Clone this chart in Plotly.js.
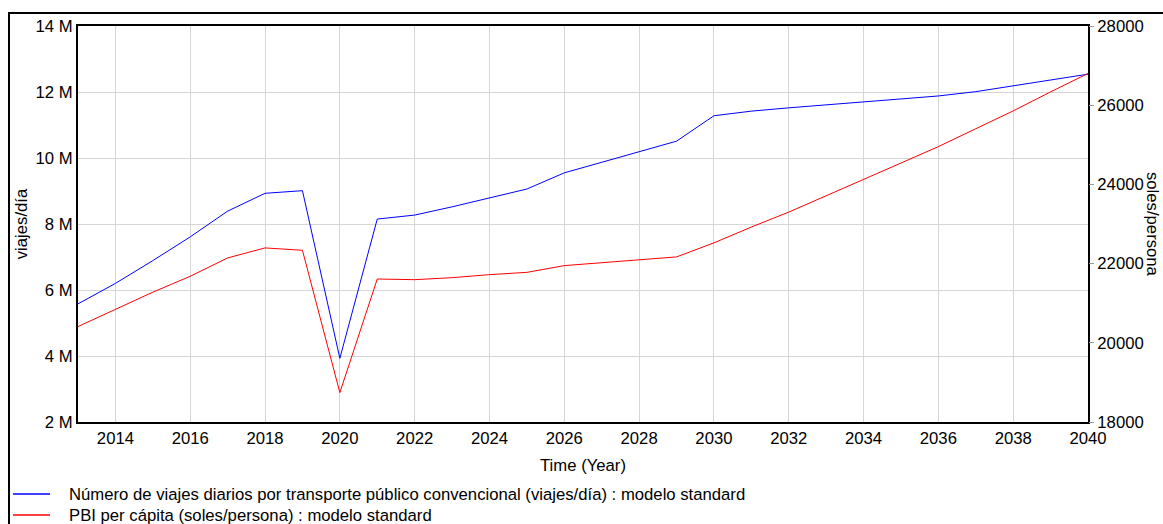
<!DOCTYPE html>
<html>
<head>
<meta charset="utf-8">
<script src="https://cdn.plot.ly/plotly-3.0.1.min.js"></script>
<style>
  html, body { margin: 0; padding: 0; background: #ffffff; }
  #chart { width: 1163px; height: 524px; }
</style>
</head>
<body>
<div id="chart"></div>
<script>
// ---- data ----
const years = [2013, 2014, 2015, 2016, 2017, 2018, 2019, 2020, 2021, 2022, 2023, 2024, 2025, 2026,
               2027, 2028, 2029, 2030, 2031, 2032, 2033, 2034, 2035, 2036, 2037, 2038, 2039, 2040];

// Número de viajes diarios por transporte público convencional (viajes/día)
const viajesDiarios = [5.58e6, 6.20e6, 6.89e6, 7.61e6, 8.39e6, 8.93e6, 9.01e6, 3.93e6, 8.15e6, 8.27e6,
                       8.52e6, 8.78e6, 9.06e6, 9.55e6, 9.87e6, 10.18e6, 10.51e6, 11.28e6, 11.42e6, 11.52e6,
                       11.61e6, 11.70e6, 11.77e6, 11.88e6, 12.01e6, 12.18e6, 12.35e6, 12.54e6];

// PBI per cápita (soles/persona)
const pbiPerCapita = [20410, 20835, 21278, 21680, 22143, 22396, 22336, 18741, 21611, 21594,
                      21645, 21721, 21779, 21949, 22017, 22093, 22169, 22523, 22923, 23300,
                      23708, 24126, 24539, 24954, 25402, 25856, 26336, 26802];

const leftTickVals = [2e6, 4e6, 6e6, 8e6, 10e6, 12e6, 14e6];
const leftTickText = ['2 M', '4 M', '6 M', '8 M', '10 M', '12 M', '14 M'];
const xTickVals = [2014, 2016, 2018, 2020, 2022, 2024, 2026, 2028, 2030, 2032, 2034, 2036, 2038, 2040];

const seriesNames = [
  'Número de viajes diarios por transporte público convencional (viajes/día) : modelo standard',
  'PBI per cápita (soles/persona) : modelo standard'
];
const seriesColors = ['#0000ff', '#ff0000'];

// ---- layout helpers (pixel -> paper) ----
const PL = 78, PR = 1088, PT = 26, PB = 422;
const px = v => (v - PL) / (PR - PL);
const py = v => (PB - v) / (PB - PT);

const FONT = 'Liberation Sans, Arial, sans-serif';
const FS = 16.7;
const tf = { family: FONT, size: FS, color: '#000000' };

const traces = [
  {
    x: years, y: viajesDiarios, name: seriesNames[0], type: 'scatter', mode: 'lines',
    line: { color: seriesColors[0], width: 1 }, yaxis: 'y'
  },
  {
    x: years, y: pbiPerCapita, name: seriesNames[1], type: 'scatter', mode: 'lines',
    line: { color: seriesColors[1], width: 1 }, yaxis: 'y2'
  }
];

// legend drawn manually (key line + label) to match the reference's spacing
const legendRows = [494, 515];
const legendShapes = seriesNames.map((n, i) => ({
  type: 'line', xref: 'paper', yref: 'paper',
  x0: px(13), x1: px(50), y0: py(legendRows[i]), y1: py(legendRows[i]),
  line: { color: seriesColors[i], width: 1.5 }
}));
const legendLabels = seriesNames.map((n, i) => ({
  text: n, xref: 'paper', yref: 'paper', x: px(67), y: py(legendRows[i]),
  xanchor: 'left', yanchor: 'middle', showarrow: false, font: tf
}));

const layout = {
  width: 1163, height: 524,
  margin: { l: PL, r: 1163 - PR, t: PT, b: 524 - PB, pad: 0 },
  paper_bgcolor: '#ffffff', plot_bgcolor: '#ffffff',
  font: tf,
  showlegend: false,
  xaxis: {
    range: [2013, 2040], tickvals: xTickVals,
    showgrid: true, gridcolor: '#d6d6d6', gridwidth: 1,
    showline: true, linecolor: '#000000', linewidth: 2, mirror: true,
    ticks: '', zeroline: false,
    tickfont: tf,
    title: { text: 'Time (Year)', font: tf, standoff: 12 }
  },
  yaxis: {
    range: [2e6, 14e6], tickvals: leftTickVals, ticktext: leftTickText,
    showgrid: true, gridcolor: '#d6d6d6', gridwidth: 1,
    showline: true, linecolor: '#000000', linewidth: 2, mirror: true,
    ticks: '', zeroline: false,
    tickfont: tf,
    title: { text: 'viajes/día', font: tf, standoff: 4 }
  },
  yaxis2: {
    range: [18000, 28000], dtick: 2000, tick0: 18000, tickformat: 'd',
    overlaying: 'y', side: 'right',
    showgrid: false, zeroline: false, showline: false,
    ticks: 'outside', ticklen: 5, tickcolor: '#999999', tickwidth: 1,
    tickfont: tf
  },
  annotations: [
    {
      text: 'soles/persona', xref: 'paper', yref: 'paper',
      x: px(1153), y: 0.5, xanchor: 'center', yanchor: 'middle',
      textangle: 90, showarrow: false, font: tf
    }
  ].concat(legendLabels),
  shapes: [
    { type: 'line', xref: 'paper', yref: 'paper', x0: px(9), x1: px(9), y0: py(12), y1: py(560),
      line: { color: '#000000', width: 2 } },
    { type: 'line', xref: 'paper', yref: 'paper', x0: px(8), x1: px(1200), y0: py(13), y1: py(13),
      line: { color: '#000000', width: 2 } }
  ].concat(legendShapes)
};

Plotly.newPlot('chart', traces, layout, { displayModeBar: false, staticPlot: true });
</script>
</body>
</html>
